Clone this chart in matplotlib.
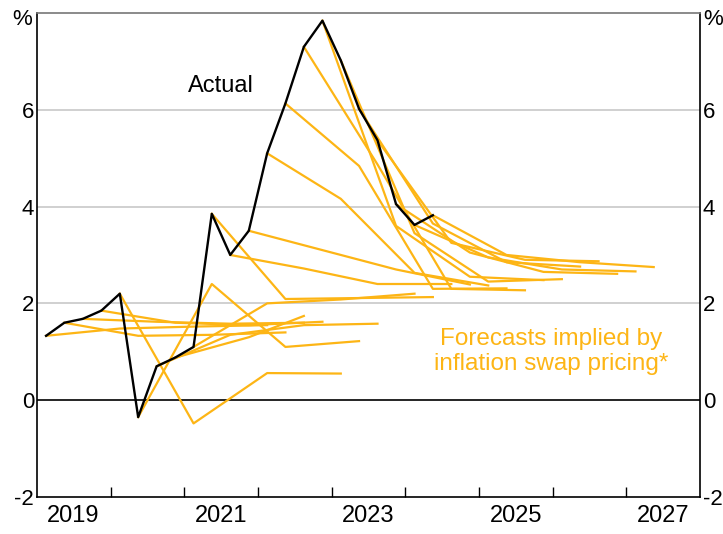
import numpy as np
import pandas as pd
import matplotlib
matplotlib.use('Agg')
import matplotlib.pyplot as plt
import matplotlib.dates as mdates

plt.rcParams['font.family'] = ['Liberation Sans', 'DejaVu Sans']
plt.rcParams['axes.unicode_minus'] = False

# quarterly year-ended inflation, 2019Q1 onwards
start_quarter = '2019Q1'
actual = [1.33, 1.6, 1.68, 1.85, 2.2, -0.35, 0.7, 0.88, 1.1, 3.85, 3.0,
          3.5, 5.1, 6.13, 7.3, 7.84, 7.02, 6.02, 5.37, 4.05, 3.62, 3.82]

# swap-implied forecast paths: quarter index (from 2019Q1) and value
fc_quarters = [
    [0, 4, 8, 12], [1, 5, 9, 13], [2, 6, 10, 14], [3, 7, 11, 15],
    [4, 8, 12, 16], [5, 9, 13, 17], [6, 10, 14, 18], [7, 11, 14],
    [8, 12, 16, 20], [9, 13, 17, 21], [10, 14, 18, 22], [11, 15, 19, 23],
    [12, 16, 20, 24], [13, 17, 21, 25], [14, 18, 22, 26], [15, 19, 23, 27],
    [16, 20, 24, 28], [17, 21, 25, 29], [18, 22, 26, 30], [19, 23, 27, 31],
    [20, 24, 28, 32], [21, 25, 29, 33],
]
fc_values = [
    [1.33, 1.48, 1.52, 1.55], [1.6, 1.33, 1.35, 1.40], [1.68, 1.62, 1.58, 1.6],
    [1.85, 1.6, 1.55, 1.62], [2.2, -0.48, 0.56, 0.55], [-0.35, 2.4, 1.1, 1.22],
    [0.7, 1.35, 1.55, 1.58], [0.88, 1.3, 1.74], [1.1, 2.0, 2.08, 2.2],
    [3.85, 2.09, 2.11, 2.13], [3.0, 2.72, 2.4, 2.4], [3.5, 3.1, 2.7, 2.39],
    [5.1, 4.16, 2.63, 2.37], [6.13, 4.84, 2.3, 2.31], [7.3, 4.87, 2.3, 2.27],
    [7.84, 3.6, 2.55, 2.48], [7.02, 3.45, 2.45, 2.5], [6.02, 3.65, 2.85, 2.76],
    [5.37, 3.25, 2.9, 2.87], [4.05, 3.05, 2.65, 2.61], [3.62, 2.95, 2.7, 2.66],
    [3.82, 3.0, 2.85, 2.75],
]

year_labels = ['2019', '2021', '2023', '2025', '2027']
y_ticks = [-2, 0, 2, 4, 6]

ORANGE = '#FDB515'

periods = pd.period_range(start_quarter, periods=34, freq='Q')
mid = periods.start_time + (periods.end_time - periods.start_time) / 2
mid = mdates.date2num(mid.to_pydatetime())

fig = plt.figure(figsize=(7.23, 5.34), dpi=100)
ax = fig.add_axes([0.0512, 0.0693, 0.9170, 0.9065])

for gy in [2, 4, 6]:
    ax.axhline(gy, color='#c8c8c8', lw=1.2, zorder=1)
ax.axhline(0, color='black', lw=1.2, zorder=1)

for qs, vs in zip(fc_quarters, fc_values):
    ax.plot(mid[qs], vs, color=ORANGE, lw=1.6, zorder=2)
ax.plot(mid[:len(actual)], actual, color='black', lw=1.7, zorder=3)

ax.set_ylim(-2, 8)
ax.set_xlim(mdates.datestr2num('2019-01-01'), mdates.datestr2num('2028-01-01'))

# year boundary ticks, labels at mid year
bounds = [mdates.datestr2num('%d-01-01' % y) for y in range(2020, 2028)]
ax.set_xticks(bounds)
ax.set_xticklabels([])
ax.set_xticks([mdates.datestr2num(y + '-07-01') for y in year_labels], minor=True)
ax.set_xticklabels(year_labels, minor=True, fontsize=17)
ax.tick_params(axis='x', which='major', direction='in', length=7, width=1)
ax.tick_params(axis='x', which='minor', length=0, pad=6)

ax.set_yticks(y_ticks)
ax.set_yticklabels([str(t) for t in y_ticks], fontsize=16)
ax.tick_params(axis='y', length=0, pad=2, labelleft=True, labelright=True)

for side in ['left', 'right', 'bottom']:
    ax.spines[side].set_color('black')
    ax.spines[side].set_linewidth(1.2)
ax.spines['top'].set_color('#777777')
ax.spines['top'].set_linewidth(1.2)

ax.text(-0.008, 7.86, '%', transform=ax.get_yaxis_transform(), ha='right',
        va='center', fontsize=16)
ax.text(1.005, 7.86, '%', transform=ax.get_yaxis_transform(), ha='left',
        va='center', fontsize=16)

ax.text(mdates.datestr2num('2021-07-01'), 6.5, 'Actual', fontsize=17,
        ha='center', va='center')
ax.text(mdates.datestr2num('2025-12-25'), 1.0,
        'Forecasts implied by\ninflation swap pricing*', fontsize=17.5,
        color=ORANGE, ha='center', va='center', linespacing=1.15)

fig.savefig('out.png', dpi=100)
